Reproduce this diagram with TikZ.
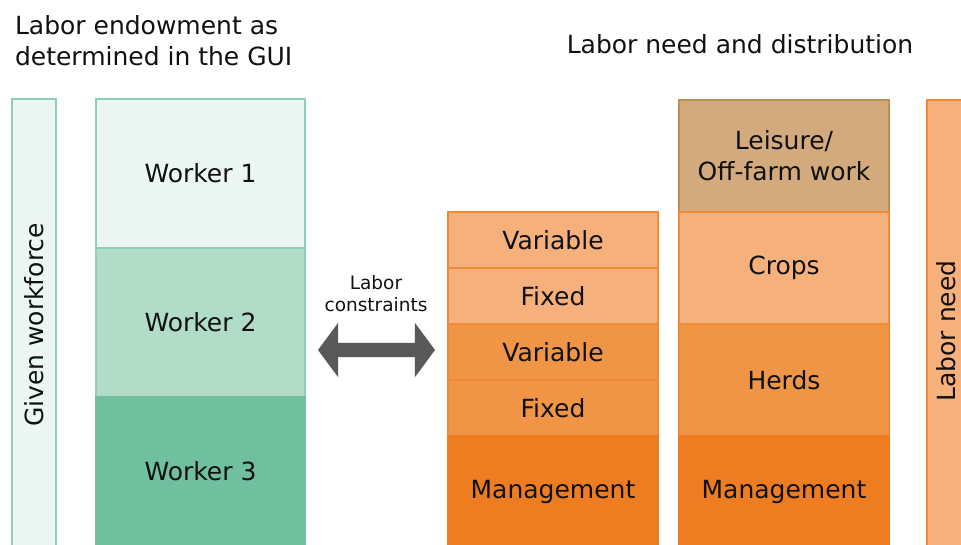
\documentclass[tikz,border=0pt]{standalone}
\usepackage{fontspec}
\setmainfont{DejaVu Sans}
\usetikzlibrary{shapes.arrows}
\definecolor{txt}{HTML}{111111}
\definecolor{gline}{HTML}{8ED0B7}
\definecolor{gA}{HTML}{ECF6F2}
\definecolor{gB}{HTML}{B0DCC8}
\definecolor{gC}{HTML}{70BF9E}
\definecolor{oline}{HTML}{F28A33}
\definecolor{oA}{HTML}{F5B07B}
\definecolor{oB}{HTML}{F09546}
\definecolor{oC}{HTML}{EE7D21}
\definecolor{brfill}{HTML}{D3AA7D}
\definecolor{brline}{HTML}{C08C50}
\definecolor{arrowgray}{HTML}{595959}
\begin{document}
\begin{tikzpicture}[x=1pt,y=-1pt,
  every node/.style={inner sep=0pt,outer sep=0pt,text=txt},
  big/.style={font=\fontsize{25}{31}\selectfont},
  small/.style={font=\fontsize{18.5}{22}\selectfont},
  gseg/.style={rectangle,big,draw=gline,line width=1.5pt,minimum width=209pt,minimum height=149pt},
  oseg/.style={rectangle,big,draw=oline,line width=2pt,minimum width=210pt},
]
\useasboundingbox (0,0) rectangle (961,544);
\fill[white] (0,0) rectangle (961,544);
\begin{scope}
\clip (0,0) rectangle (961,544);
% titles
\node[big,align=left,anchor=west] (t1) at (15,41) {Labor endowment as\\determined in the GUI};
\node[big] (t2) at (740,44) {Labor need and distribution};
% given workforce
\node[rectangle,draw=gline,fill=gA,line width=1.5pt,minimum width=44pt,minimum height=452pt] (gw) at (34,325) {};
\node[big,rotate=90] (gwt) at (34,325) {Given workforce};
% workers
\node[gseg,fill=gA] (w1) at (200.5,173.5) {Worker 1};
\node[gseg,fill=gB] (w2) at (200.5,322.5) {Worker 2};
\node[gseg,fill=gC,draw=gC] (w3) at (200.5,471.5) {Worker 3};
% arrow
\node[small,align=center] (lc) at (376,294) {Labor\\constraints};
\node[double arrow,fill=arrowgray,inner sep=7pt,minimum height=117pt,
      double arrow head extend=20pt,double arrow tip angle=107] (arr) at (376.5,350) {};
% left orange column
\node[oseg,fill=oA,minimum height=56pt] (v1) at (553,240) {Variable};
\node[oseg,fill=oA,minimum height=56pt] (f1) at (553,296) {Fixed};
\node[oseg,fill=oB,minimum height=56pt] (v2) at (553,352) {Variable};
\node[oseg,fill=oB,minimum height=56pt] (f2) at (553,408) {Fixed};
\node[oseg,fill=oC,draw=oC,minimum height=112pt] (m1) at (553,492) {Management};
% right orange column
\node[oseg,fill=brfill,draw=brline,minimum height=112pt,align=center] (ls) at (784,156) {Leisure/\\Off-farm work};
\node[oseg,fill=oA,minimum height=112pt] (cr) at (784,268) {Crops};
\node[oseg,fill=oB,minimum height=112pt] (hd) at (784,380) {Herds};
\node[oseg,fill=oC,draw=oC,minimum height=112pt] (m2) at (784,492) {Management};
% labor need bar
\node[rectangle,draw=oline,fill=oA,line width=1.5pt,minimum width=70pt,minimum height=460pt] (ln) at (962,330) {};
\node[big,rotate=90] (lnt) at (946,331) {Labor need};
\end{scope}
\end{tikzpicture}
\end{document}
